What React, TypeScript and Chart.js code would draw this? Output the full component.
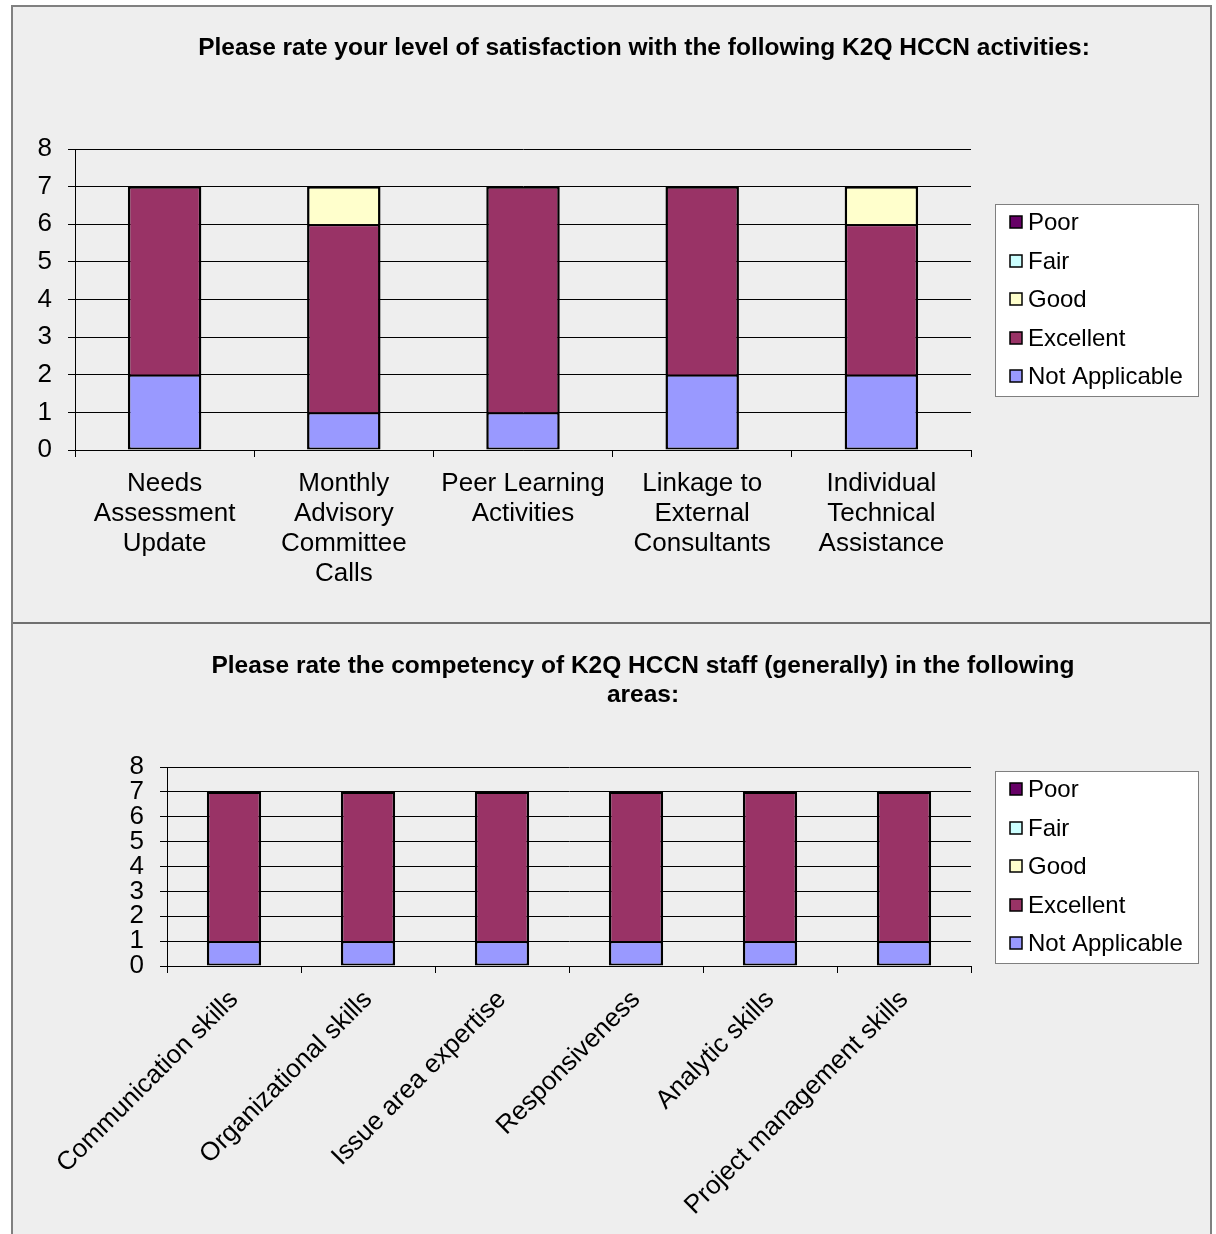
import React, { useEffect, useRef } from 'react';
import { Chart, registerables } from 'chart.js';

Chart.register(...registerables);

const FONT = "'Liberation Sans', Arial, Helvetica, sans-serif";
Chart.defaults.color = '#000';
Chart.defaults.font.family = FONT;

// ---- shared series ----
const seriesLabels = ['Not Applicable', 'Excellent', 'Good', 'Fair', 'Poor'];
const seriesColors = ['#9999FF', '#993366', '#FFFFCC', '#CCFFFF', '#660066'];

// ---- chart 1: activities ----
const activityTitle = 'Please rate your level of satisfaction with the following K2Q HCCN activities:';
const activityCategories = [
  ['Needs', 'Assessment', 'Update'],
  ['Monthly', 'Advisory', 'Committee', 'Calls'],
  ['Peer Learning', 'Activities'],
  ['Linkage to', 'External', 'Consultants'],
  ['Individual', 'Technical', 'Assistance'],
];
const activityNotApplicable = [2, 1, 1, 2, 2];
const activityExcellent = [5, 5, 6, 5, 4];
const activityGood = [0, 1, 0, 0, 1];
const activityFair = [0, 0, 0, 0, 0];
const activityPoor = [0, 0, 0, 0, 0];

// ---- chart 2: staff competency ----
const staffTitle = [
  'Please rate the competency of K2Q HCCN staff (generally) in the following',
  'areas:',
];
const staffCategories = [
  'Communication skills',
  'Organizational skills',
  'Issue area expertise',
  'Responsiveness',
  'Analytic skills',
  'Project management skills',
];
const staffNotApplicable = [1, 1, 1, 1, 1, 1];
const staffExcellent = [6, 6, 6, 6, 6, 6];
const staffGood = [0, 0, 0, 0, 0, 0];
const staffFair = [0, 0, 0, 0, 0, 0];
const staffPoor = [0, 0, 0, 0, 0, 0];

const yMin = 0;
const yMax = 8;
const yStep = 1;

const boxLegend = {
  id: 'boxLegend',
  afterDraw(chart: any, _args: any, opts: any) {
    const { ctx, chartArea } = chart;
    const items = chart.data.datasets.slice().reverse();
    const x = chartArea.right + opts.gap;
    const y = Math.round((chartArea.top + chartArea.bottom) / 2 - opts.height / 2);
    ctx.save();
    ctx.fillStyle = '#ffffff';
    ctx.fillRect(x, y, opts.width, opts.height);
    ctx.strokeStyle = '#7f7f7f';
    ctx.lineWidth = 1;
    ctx.strokeRect(x + 0.5, y + 0.5, opts.width, opts.height);
    ctx.font = `${opts.fontSize}px ${FONT}`;
    ctx.textBaseline = 'middle';
    ctx.textAlign = 'left';
    items.forEach((d: any, i: number) => {
      const cy = Math.round(y + opts.first + i * opts.step);
      ctx.fillStyle = d.backgroundColor;
      ctx.fillRect(x + 15, cy - 6, 12, 12);
      ctx.strokeStyle = '#000';
      ctx.lineWidth = 1.5;
      ctx.strokeRect(x + 15, cy - 6, 12, 12);
      ctx.fillStyle = '#000';
      ctx.fillText(d.label, x + 33, cy + 1);
    });
    ctx.restore();
  },
};

type Cfg = {
  title: string | string[];
  labels: any[];
  series: number[][];
  width: number;
  height: number;
  yWidth: number;
  padRight: number;
  xHeight: number;
  xPad: number;
  rotation: number;
  barPct: number;
  titleTop: number;
  titleBottom: number;
};

function StackedChart({ cfg }: { cfg: Cfg }) {
  const ref = useRef<HTMLCanvasElement>(null);
  useEffect(() => {
    const chart = new Chart(ref.current as HTMLCanvasElement, {
      type: 'bar',
      data: {
        labels: cfg.labels,
        datasets: cfg.series.map((values, i) => ({
          label: seriesLabels[i],
          data: values,
          backgroundColor: seriesColors[i],
          borderColor: '#000',
          borderWidth: { top: 2, bottom: i === 0 ? 2 : 0, left: 2.5, right: 2.5 },
          borderSkipped: false,
          barPercentage: cfg.barPct,
          categoryPercentage: 1,
          yAxisID: 'y',
        })),
      },
      options: {
        responsive: false,
        animation: false,
        events: [],
        layout: { padding: 0 },
        plugins: {
          legend: { display: false },
          tooltip: { enabled: false },
          title: {
            display: true,
            text: cfg.title,
            color: '#000',
            font: { family: FONT, size: 24.5, weight: 'bold', lineHeight: 1.2 },
            padding: { top: cfg.titleTop, bottom: cfg.titleBottom },
          },
          boxLegend: { gap: 24, width: 203, height: 192, first: 18, step: 38.5, fontSize: 24 },
        } as any,
        scales: {
          x: {
            stacked: true,
            offset: true,
            grid: { drawOnChartArea: false, drawTicks: true, tickLength: 7, color: '#000', offset: true },
            border: { display: true, color: '#000', width: 1 },
            ticks: {
              color: '#000',
              font: { family: FONT, size: 26, lineHeight: 1.15 },
              padding: cfg.xPad,
              maxRotation: cfg.rotation,
              minRotation: cfg.rotation,
              autoSkip: false,
            },
            afterFit: (s: any) => {
              s.height = cfg.xHeight;
            },
          },
          y: {
            stacked: true,
            min: yMin,
            max: yMax,
            grid: { color: '#000', lineWidth: 1, drawTicks: true, tickLength: 7 },
            border: { display: true, color: '#000', width: 1 },
            ticks: {
              stepSize: yStep,
              autoSkip: false,
              color: '#000',
              font: { family: FONT, size: 26 },
              padding: 16,
            },
            afterFit: (s: any) => {
              s.width = cfg.yWidth;
            },
          },
          pad: {
            type: 'linear',
            axis: 'y',
            position: 'right',
            display: true,
            grid: { display: false },
            border: { display: false },
            ticks: { display: false },
            afterFit: (s: any) => {
              s.width = cfg.padRight;
            },
          },
        } as any,
      },
      plugins: [boxLegend],
    });
    return () => chart.destroy();
  }, [cfg]);
  return <canvas ref={ref} width={cfg.width} height={cfg.height} style={{ display: 'block', width: cfg.width, height: cfg.height }} />;
}

const activityCfg: Cfg = {
  title: activityTitle,
  labels: activityCategories,
  series: [activityNotApplicable, activityExcellent, activityGood, activityFair, activityPoor],
  width: 1262,
  height: 615,
  yWidth: 62,
  padRight: 304,
  xHeight: 172,
  xPad: 12,
  rotation: 0,
  barPct: 0.41,
  titleTop: 27,
  titleBottom: 85.6,
};

const staffCfg: Cfg = {
  title: staffTitle,
  labels: staffCategories,
  series: [staffNotApplicable, staffExcellent, staffGood, staffFair, staffPoor],
  width: 1260,
  height: 610,
  yWidth: 154,
  padRight: 302,
  xHeight: 268,
  xPad: 12,
  rotation: 45,
  barPct: 0.405,
  titleTop: 27.3,
  titleBottom: 56.9,
};

export default function App() {
  return (
    <div
      style={{
        position: 'absolute',
        left: 11,
        top: 5,
        width: 1197,
        height: 1227,
        borderLeft: '2px solid #808080',
        borderRight: '2px solid #808080',
        borderTop: '2px solid #808080',
        background: '#eeeeee',
        overflow: 'hidden',
      }}
    >
      <div style={{ position: 'absolute', left: 0, top: 0 }}>
        <StackedChart cfg={activityCfg} />
      </div>
      <div style={{ position: 'absolute', left: 0, top: 615, width: 1197, height: 2, background: '#6f6f6f' }} />
      <div style={{ position: 'absolute', left: 0, top: 617 }}>
        <StackedChart cfg={staffCfg} />
      </div>
    </div>
  );
}
